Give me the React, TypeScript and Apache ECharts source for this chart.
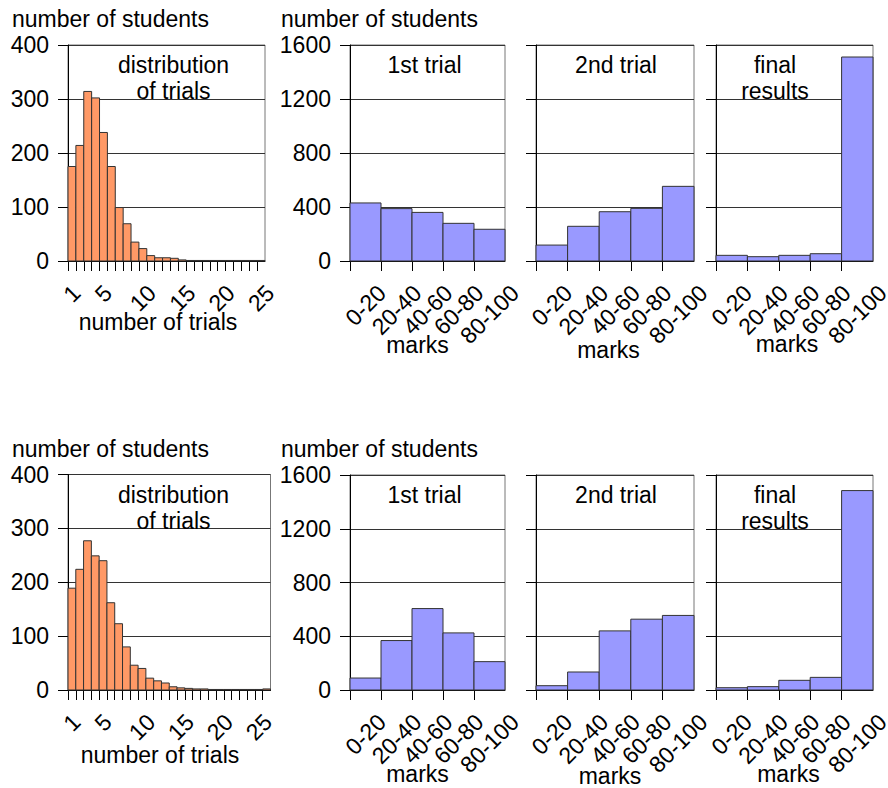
import React, { useEffect, useRef } from 'react';
import * as echarts from 'echarts';

// ---------- data ----------
const markCategories = ['0-20', '20-40', '40-60', '60-80', '80-100'];
const trialTickLabels = ['1', '5', '10', '15', '20', '25'];
const trialTickPositions = [1, 5, 10, 15, 20, 25];

const topTrials = [175, 214, 314, 302, 238, 175, 99, 69, 35, 23, 10, 6, 6, 5, 2, 1, 1, 1, 1, 1, 1, 1, 1, 1, 1];
const topFirst = [430, 388, 360, 279, 235];
const topSecond = [118, 257, 365, 390, 553];
const topFinal = [42, 32, 42, 54, 1511];

const bottomTrials = [189, 224, 277, 249, 240, 162, 123, 80, 46, 40, 22, 17, 13, 6, 4, 3, 2, 2, 1, 1, 1, 1, 1, 1, 1, 2];
const bottomFirst = [89, 368, 606, 425, 211];
const bottomSecond = [32, 134, 440, 527, 555];
const bottomFinal = [17, 25, 72, 94, 1484];

const histMax = 400;
const histInterval = 100;
const marksMax = 1600;
const marksInterval = 400;

const yTitle = 'number of students';
const histXTitle = 'number of trials';
const marksXTitle = 'marks';
const histTitle = 'distribution\nof trials';
const panelTitles = ['1st trial', '2nd trial', 'final\nresults'];

// ---------- style ----------
const FONT = '"Liberation Sans", Arial, Helvetica, sans-serif';
const FS = 23;
const ORANGE = '#ff9966';
const BLUE = '#9999ff';
const EDGE = '#333333';

export default function App() {
  const ref = useRef<HTMLDivElement>(null);

  useEffect(() => {
    if (!ref.current) return;
    const chart = echarts.init(ref.current, null, { renderer: 'svg' });

    // measure label widths so the rotated labels hang from a common top line
    const canvas = document.createElement('canvas');
    const ctx = canvas.getContext('2d')!;
    ctx.font = `${FS}px ${FONT}`;
    const allLabels = [...markCategories, ...trialTickLabels];
    const widths = allLabels.map((s) => ctx.measureText(s).width);
    const wMax = Math.max(...widths);
    const rich: Record<string, any> = {};
    allLabels.forEach((_s, i) => {
      const p = (wMax - widths[i]) / 2;
      rich['l' + i] = {
        fontSize: FS,
        fontFamily: FONT,
        color: '#000',
        padding: [0, 0, p, p],
      };
    });
    const labelMargin = 28 + 0.3536 * wMax;
    const tag = (s: string) => `{l${allLabels.indexOf(s)}|${s}}`;

    const grids: any[] = [];
    const xAxes: any[] = [];
    const yAxes: any[] = [];
    const series: any[] = [];

    const baseX = (min: number, max: number, tickVals: number[], labelVals: number[], fmt: (v: number) => string) => ({
      type: 'value',
      min,
      max,
      position: 'bottom',
      axisLine: { show: true, onZero: false, lineStyle: { color: '#000', width: 1 } },
      axisTick: { show: true, length: 10, inside: false, customValues: tickVals, lineStyle: { color: '#000', width: 1 } },
      axisLabel: {
        show: true,
        customValues: labelVals,
        rotate: 45,
        align: 'center',
        verticalAlign: 'middle',
        margin: labelMargin,
        hideOverlap: false,
        formatter: (v: number) => tag(fmt(v)),
        rich,
        fontSize: FS,
        fontFamily: FONT,
        color: '#000',
      },
      splitLine: { show: false },
    });

    const baseY = (max: number, interval: number, showLabels: boolean) => ({
      type: 'value',
      min: 0,
      max,
      interval,
      axisLine: { show: true, lineStyle: { color: '#000', width: 1 } },
      axisTick: { show: true, length: 10, inside: false, lineStyle: { color: '#000', width: 1 } },
      axisLabel: {
        show: showLabels,
        margin: 19,
        fontSize: FS,
        fontFamily: FONT,
        color: '#000',
        formatter: (v: number) => String(v),
      },
      splitLine: { show: true, lineStyle: { color: EDGE, width: 1 } },
    });

    const rectSeries = (idx: number, values: number[], color: string) => ({
      type: 'custom',
      xAxisIndex: idx,
      yAxisIndex: idx,
      clip: false,
      encode: { x: 0, y: 1 },
      data: values.map((v, j) => [j, v]),
      renderItem: (_p: any, api: any) => {
        const x0 = api.value(0);
        const v = api.value(1);
        const a = api.coord([x0, v]);
        const b = api.coord([x0 + 1, 0]);
        return {
          type: 'rect',
          shape: { x: a[0], y: a[1], width: b[0] - a[0], height: b[1] - a[1] },
          style: { fill: color, stroke: EDGE, lineWidth: 1 },
        };
      },
    });

    const addHist = (left: number, top: number, width: number, height: number, values: number[]) => {
      const idx = grids.length;
      grids.push({ left, top, width, height, show: true, borderColor: '#777', borderWidth: 1, backgroundColor: 'transparent', outerBoundsMode: 'none', containLabel: false });
      const n = values.length;
      xAxes.push({
        gridIndex: idx,
        ...baseX(
          0,
          n,
          values.map((_v, j) => j),
          trialTickPositions.map((p) => p - 0.5),
          (v) => trialTickLabels[trialTickPositions.indexOf(Math.round(v + 0.5))] ?? ''
        ),
      });
      yAxes.push({ gridIndex: idx, ...baseY(histMax, histInterval, true) });
      series.push(rectSeries(idx, values, ORANGE));
    };

    const addMarks = (left: number, top: number, width: number, height: number, values: number[], showY: boolean) => {
      const idx = grids.length;
      grids.push({ left, top, width, height, show: true, borderColor: '#777', borderWidth: 1, backgroundColor: 'transparent', outerBoundsMode: 'none', containLabel: false });
      xAxes.push({
        gridIndex: idx,
        ...baseX(
          0,
          markCategories.length,
          markCategories.map((_c, j) => j),
          markCategories.map((_c, j) => j + 0.5),
          (v) => markCategories[Math.floor(v)] ?? ''
        ),
      });
      yAxes.push({ gridIndex: idx, ...baseY(marksMax, marksInterval, showY) });
      series.push(rectSeries(idx, values, BLUE));
    };

    // top row
    addHist(68, 45, 197, 216, topTrials);
    addMarks(350, 45, 155, 216, topFirst, true);
    addMarks(536, 45, 158, 216, topSecond, false);
    addMarks(716, 45, 157, 216, topFinal, false);
    // bottom row
    addHist(68, 474.5, 202.5, 215.5, bottomTrials);
    addMarks(350, 475, 155, 215, bottomFirst, true);
    addMarks(536, 475, 158, 215, bottomSecond, false);
    addMarks(716, 475, 157, 215, bottomFinal, false);

    const txt = (text: string, x: number, y: number, align: string = 'center') => ({
      type: 'text',
      x,
      y,
      z: 100,
      silent: true,
      style: {
        text,
        fontSize: FS,
        fontFamily: FONT,
        fill: '#000',
        lineHeight: 26,
        align,
        verticalAlign: 'middle',
        textAlign: align,
        textVerticalAlign: 'middle',
      },
    });

    const graphics: any[] = [];
    [0, 430].forEach((dy, r) => {
      graphics.push(txt(yTitle, 12, 19 + dy, 'left'));
      graphics.push(txt(yTitle, 281, 19 + dy, 'left'));
      graphics.push(txt(histTitle, 173.5, 78 + dy));
      graphics.push(txt(panelTitles[0], 424.5, 65 + dy));
      graphics.push(txt(panelTitles[1], 616, 65 + dy));
      graphics.push(txt(panelTitles[2], 775, 78 + dy));
      graphics.push(txt(histXTitle, r === 0 ? 158 : 160, r === 0 ? 322 : 755));
      graphics.push(txt(marksXTitle, 417.5, r === 0 ? 345 : 774));
      graphics.push(txt(marksXTitle, r === 0 ? 608.5 : 610, r === 0 ? 350 : 776));
      graphics.push(txt(marksXTitle, r === 0 ? 787 : 788.5, r === 0 ? 344 : 774));
    });

    chart.setOption({
      animation: false,
      backgroundColor: '#ffffff',
      grid: grids,
      xAxis: xAxes,
      yAxis: yAxes,
      series,
      graphic: { elements: graphics },
    });

    return () => chart.dispose();
  }, []);

  return (
    <div
      ref={ref}
      style={{ position: 'fixed', left: 0, top: 0, width: 888, height: 788, background: '#fff' }}
    />
  );
}
